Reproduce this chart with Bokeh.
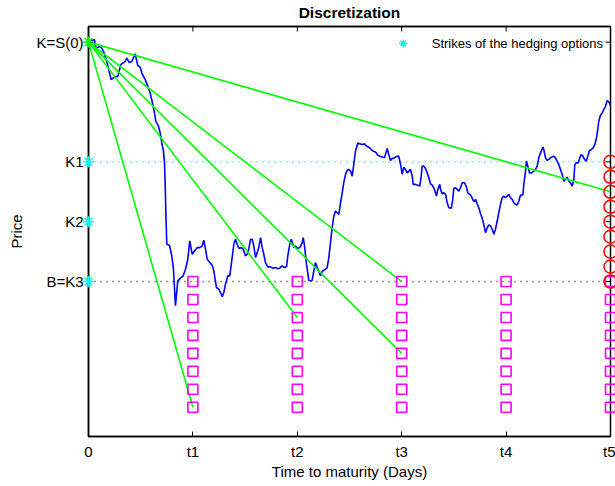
from bokeh.plotting import figure
from bokeh.models import Range1d, FixedTicker, Legend, LegendItem, LinearAxis
from bokeh.embed import file_html
from bokeh.resources import INLINE
import math

# ---- data ----
title_text = "Discretization"
time_ticks = [0, 1, 2, 3, 4, 5]
time_labels = ["0", "t1", "t2", "t3", "t4", "t5"]
price_ticks = [70, 80, 90, 110]
price_labels = ["B=K3", "K2", "K1", "K=S(0)"]

S0 = 110
strikes = [90, 80, 70]

path_t = [0.0, 0.016, 0.057, 0.070, 0.115, 0.144, 0.175, 0.217, 0.249, 0.281, 0.309, 0.352, 0.367, 0.390, 0.415,
          0.447, 0.472, 0.495, 0.511, 0.543, 0.568, 0.591, 0.613, 0.632, 0.645, 0.670, 0.687, 0.702, 0.718, 0.728,
          0.735, 0.740, 0.750, 0.776, 0.798, 0.814, 0.833, 0.855, 0.881, 0.907, 0.929, 0.951, 0.970, 0.993, 1.015,
          1.041, 1.066, 1.089, 1.104, 1.121, 1.137, 1.162, 1.185, 1.200, 1.226, 1.248, 1.264, 1.281, 1.296, 1.312,
          1.334, 1.353, 1.376, 1.392, 1.408, 1.424, 1.440, 1.462, 1.482, 1.504, 1.520, 1.535, 1.552, 1.568, 1.583,
          1.600, 1.616, 1.631, 1.648, 1.664, 1.679, 1.695, 1.717, 1.743, 1.769, 1.791, 1.813, 1.832, 1.855, 1.877,
          1.897, 1.909, 1.928, 1.942, 1.957, 1.966, 1.983, 1.999, 2.024, 2.047, 2.057, 2.069, 2.088, 2.110, 2.126,
          2.143, 2.158, 2.174, 2.191, 2.206, 2.222, 2.238, 2.254, 2.270, 2.286, 2.302, 2.318, 2.334, 2.350, 2.366,
          2.382, 2.398, 2.414, 2.430, 2.445, 2.462, 2.478, 2.493, 2.510, 2.526, 2.541, 2.557, 2.580, 2.599, 2.622,
          2.644, 2.663, 2.685, 2.708, 2.727, 2.749, 2.771, 2.790, 2.813, 2.835, 2.861, 2.876, 2.893, 2.909, 2.931,
          2.950, 2.972, 2.989, 3.005, 3.020, 3.036, 3.053, 3.068, 3.084, 3.101, 3.110, 3.132, 3.148, 3.173, 3.187,
          3.196, 3.212, 3.228, 3.244, 3.260, 3.276, 3.292, 3.307, 3.324, 3.333, 3.346, 3.365, 3.372, 3.388, 3.403,
          3.420, 3.436, 3.451, 3.474, 3.487, 3.499, 3.515, 3.532, 3.547, 3.563, 3.580, 3.602, 3.621, 3.633, 3.652,
          3.666, 3.685, 3.697, 3.707, 3.723, 3.739, 3.755, 3.771, 3.786, 3.803, 3.819, 3.834, 3.851, 3.867, 3.882,
          3.898, 3.915, 3.930, 3.946, 3.963, 3.978, 3.994, 4.011, 4.026, 4.042, 4.058, 4.074, 4.090, 4.106, 4.122,
          4.138, 4.160, 4.170, 4.186, 4.195, 4.212, 4.224, 4.243, 4.265, 4.282, 4.298, 4.313, 4.330, 4.352, 4.361,
          4.377, 4.394, 4.409, 4.425, 4.442, 4.457, 4.473, 4.489, 4.505, 4.521, 4.537, 4.553, 4.569, 4.585, 4.601,
          4.617, 4.633, 4.649, 4.658, 4.674, 4.691, 4.706, 4.719, 4.735, 4.751, 4.767, 4.783, 4.799, 4.818, 4.834,
          4.850, 4.866, 4.878, 4.888, 4.904, 4.920, 4.936, 4.952, 4.968, 4.984, 5.0]
path_price = [110.0, 110.28, 110.4, 109.0, 109.28, 108.45, 106.78, 103.73, 104.16, 104.28, 106.23, 106.78, 107.33,
              106.61, 106.78, 108.06, 106.06, 105.83, 104.83, 103.73, 102.61, 101.5, 99.83, 98.16, 96.78, 95.95,
              94.83, 93.16, 91.78, 89.83, 85.95, 82.11, 76.23, 76.06, 74.28, 72.06, 65.95, 70.11, 70.56, 70.95,
              72.06, 73.73, 76.78, 74.56, 75.11, 75.66, 75.66, 75.95, 76.9, 75.4, 73.73, 73.16, 72.73, 71.78, 69.0,
              68.73, 68.16, 67.45, 68.16, 69.56, 70.95, 70.95, 74.0, 76.23, 77.06, 76.23, 75.56, 75.66, 75.4, 74.28,
              74.56, 75.4, 77.06, 77.06, 75.95, 74.0, 74.83, 75.66, 77.33, 75.66, 74.56, 73.16, 72.45, 72.45, 72.23,
              72.33, 72.16, 72.23, 72.61, 72.33, 72.5, 74.28, 76.23, 77.06, 76.23, 75.66, 75.95, 75.56, 75.66, 76.5,
              77.33, 75.95, 72.9, 70.23, 70.11, 70.23, 71.78, 73.16, 72.33, 71.78, 70.95, 71.66, 71.9, 72.06, 72.33,
              74.0, 76.5, 79.0, 80.95, 81.78, 81.5, 81.23, 83.16, 84.83, 86.5, 87.9, 88.61, 88.73, 88.45, 87.61,
              89.56, 91.78, 93.16, 93.0, 92.9, 93.0, 92.61, 92.45, 92.06, 91.78, 91.66, 91.11, 90.95, 90.83, 90.66,
              92.23, 91.23, 90.23, 90.56, 90.66, 90.9, 90.95, 89.56, 87.9, 89.11, 88.73, 88.16, 88.45, 88.73, 87.61,
              86.23, 86.23, 86.11, 85.95, 87.61, 89.28, 89.28, 88.9, 88.16, 87.33, 86.33, 86.11, 85.66, 84.83, 84.28,
              85.4, 86.23, 85.4, 84.66, 84.83, 84.56, 83.16, 82.33, 82.23, 83.45, 85.56, 85.66, 85.4, 85.11, 85.66,
              86.5, 86.5, 85.78, 84.83, 84.56, 84.28, 83.56, 83.33, 83.73, 83.0, 82.33, 81.33, 80.56, 79.56, 78.16,
              79.0, 79.45, 79.28, 78.73, 77.9, 78.73, 80.11, 81.5, 82.9, 84.0, 84.28, 84.0, 84.28, 84.56, 84.0,
              83.73, 83.16, 82.9, 82.78, 83.45, 84.45, 84.45, 86.23, 88.45, 90.11, 89.0, 88.16, 88.16, 88.45, 88.73,
              89.28, 90.66, 91.5, 92.45, 92.06, 90.66, 90.23, 90.4, 90.66, 90.83, 90.95, 90.66, 90.11, 89.56, 88.73,
              87.9, 86.78, 87.06, 87.45, 86.78, 86.5, 85.95, 87.06, 89.56, 89.83, 89.83, 90.66, 91.23, 90.95, 90.4,
              90.11, 90.95, 91.9, 92.06, 92.33, 92.9, 94.0, 95.4, 96.78, 97.78, 98.16, 98.73, 99.28, 100.23, 100.0,
              99.45]

# hedging lines from (0, S0) to these points
line_end_t = [1, 2, 3, 3, 5]
line_end_p = [49, 64, 58, 70, 85]

# grid of discretized prices (squares) at t1..t5
grid_times = [1, 2, 3, 4, 5]
grid_prices = [70, 67, 64, 61, 58, 55, 52, 49]

# levels at maturity (circles)
maturity_prices = [70, 72.5, 75, 77.5, 80, 82.5, 85, 87.5, 90]

FONT = "Liberation Sans"
Y_MIN, Y_MAX = 44.11, 112.61

p = figure(width=615, height=486, output_backend="svg", toolbar_location=None,
           x_range=Range1d(0, 5), y_range=Range1d(Y_MIN, Y_MAX), title=None,
           min_border_left=88, min_border_right=5, min_border_top=25, min_border_bottom=50)

p.xgrid.visible = False
p.ygrid.visible = False
p.outline_line_color = "black"
p.outline_line_width = 1.5
p.outline_line_alpha = 1

for ax in (p.xaxis[0], p.yaxis[0]):
    ax.major_label_text_font = FONT
    ax.major_label_text_font_size = "15px"
    ax.major_label_text_color = "black"
    ax.axis_label_text_font = FONT
    ax.axis_label_text_font_size = "15px"
    ax.axis_label_text_font_style = "normal"
    ax.axis_label_text_color = "black"
    ax.axis_line_color = "black"
    ax.axis_line_width = 1.5
    ax.major_tick_in = 5
    ax.major_tick_out = 0
    ax.major_tick_line_color = "black"
    ax.minor_tick_line_color = None

p.xaxis.ticker = FixedTicker(ticks=time_ticks)
p.xaxis.major_label_overrides = {t: l for t, l in zip(time_ticks, time_labels)}
p.xaxis.axis_label = "Time to maturity (Days)"
p.xaxis.major_label_standoff = 6
p.xaxis.axis_label_standoff = 0

p.yaxis.ticker = FixedTicker(ticks=price_ticks)
p.yaxis.major_label_overrides = {t: l for t, l in zip(price_ticks, price_labels)}
p.yaxis.axis_label = "Price"
p.yaxis.major_label_standoff = 5
p.yaxis.axis_label_standoff = 8

# top box edge carries the title (its ticks are drawn as markers below)
top_ax = LinearAxis(ticker=FixedTicker(ticks=[]), axis_label=title_text,
                    axis_label_text_font=FONT, axis_label_text_font_size="15.5px",
                    axis_label_text_font_style="bold", axis_label_text_color="black",
                    axis_label_standoff=6, major_label_standoff=0,
                    major_tick_in=0, major_tick_out=0, minor_tick_line_color=None,
                    axis_line_color="black", axis_line_width=1.5)
p.add_layout(top_ax, "above")

# tick marks on the top and right box edges (half of each dash falls inside the frame)
p.scatter(time_ticks[1:-1], [Y_MAX] * (len(time_ticks) - 2), marker="dash", size=10, angle=math.pi / 2,
          line_color="black", line_width=1)
p.scatter([time_ticks[-1]] * len(price_ticks), price_ticks, marker="dash", size=10,
          line_color="black", line_width=1)

# reference levels
p.line(x=[time_ticks[0], time_ticks[-1]], y=[strikes[0], strikes[0]], line_color="#00FFFF",
       line_dash="1 5", line_width=1.5)
p.line(x=[time_ticks[0], time_ticks[-1]], y=[strikes[-1], strikes[-1]], line_color="#333333",
       line_dash="1 5", line_width=1.5)

# price path
p.line(path_t, path_price, line_color="#0000FF", line_width=1.6)

# hedging lines
p.segment(x0=[0] * len(line_end_t), y0=[S0] * len(line_end_t), x1=line_end_t, y1=line_end_p,
          line_color="#00FF00", line_width=1.6)

# discretization squares
sq_t = [t for t in grid_times for _ in grid_prices]
sq_p = [v for _ in grid_times for v in grid_prices]
p.scatter(sq_t, sq_p, marker="square", size=10, fill_color=None, line_color="#FF00FF", line_width=1.6,
          level="overlay")

# maturity circles
p.scatter([5] * len(maturity_prices), maturity_prices, marker="circle", size=13,
          fill_color=None, line_color="#FF0000", line_width=1.5, level="overlay")

# strikes
p.scatter([0], [S0], marker="asterisk", size=11, line_color="#00FF00", line_width=1.5, level="overlay")
strike_r = p.scatter([0] * len(strikes), strikes, marker="asterisk", size=11, line_color="#00FFFF",
                     line_width=1.5, level="overlay")

legend = Legend(items=[LegendItem(label="Strikes of the hedging options", renderers=[strike_r])],
                location="top_right", margin=0, padding=7, glyph_width=30, label_standoff=14,
                label_text_font=FONT, label_text_font_size="13px", label_text_color="black",
                border_line_alpha=0, background_fill_alpha=0)
p.add_layout(legend)

open("out.html", "w").write(file_html(p, INLINE))
